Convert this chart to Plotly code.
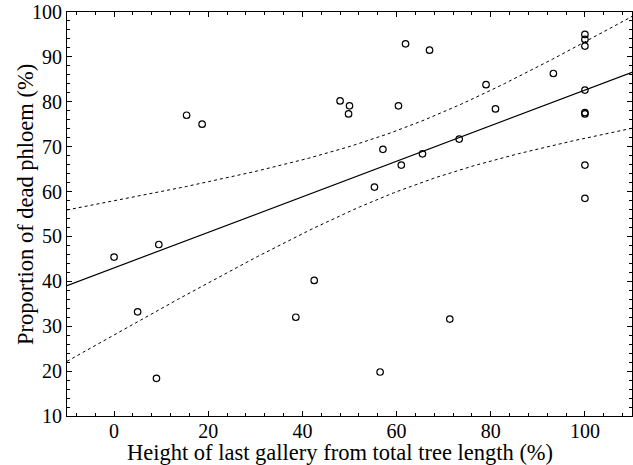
import numpy as np
import plotly.graph_objects as go

# Data
height_pct = [15.4, 18.7, 48.0, 50.0, 49.8, 61.9, 67.0, 60.4, 57.1, 61.0, 65.5, 55.3,
              73.3, 79.0, 81.0, 93.3,
              100, 100, 100, 100, 100, 100, 100, 100,
              0.0, 9.5, 5.0, 9.0, 38.6, 42.5, 56.5, 71.3]
dead_phloem = [77.0, 75.0, 80.2, 79.1, 77.3, 92.9, 91.5, 79.1, 69.4, 65.9, 68.4, 61.0,
               71.7, 83.8, 78.4, 86.3,
               95.0, 93.9, 92.4, 82.6, 77.6, 77.3, 65.9, 58.5,
               45.4, 48.2, 33.2, 18.4, 32.0, 40.2, 19.8, 31.6]
# Regression line
fit_intercept = 43.0
fit_slope = 0.396
x_ticks = [0, 20, 40, 60, 80, 100]
y_ticks = [10, 20, 30, 40, 50, 60, 70, 80, 90, 100]
x_title = "Height of last gallery from total tree length (%)"
y_title = "Proportion of dead phloem (%)"

x = np.array(height_pct, dtype=float)
y = np.array(dead_phloem, dtype=float)
n = len(x)
resid = y - (fit_intercept + fit_slope * x)
s = np.sqrt(np.sum(resid ** 2) / (n - 2))
t_crit = 2.042  # t(0.975, df=30)
xs = np.linspace(-10, 110, 200)
fit = fit_intercept + fit_slope * xs
se = s * np.sqrt(1.0 / n + (xs - x.mean()) ** 2 / np.sum((x - x.mean()) ** 2))
upper = fit + t_crit * se
lower = fit - t_crit * se

fig = go.Figure()
fig.add_trace(go.Scatter(x=xs, y=upper, mode="lines",
                         line=dict(color="black", width=1, dash="3px,3px"), showlegend=False))
fig.add_trace(go.Scatter(x=xs, y=lower, mode="lines",
                         line=dict(color="black", width=1, dash="3px,3px"), showlegend=False))
fig.add_trace(go.Scatter(x=xs, y=fit, mode="lines",
                         line=dict(color="black", width=1.2), showlegend=False))
fig.add_trace(go.Scatter(x=x, y=y, mode="markers",
                         marker=dict(symbol="circle-open", size=6.5, color="black",
                                     line=dict(width=1.2, color="black")),
                         showlegend=False))

font = dict(family="Liberation Serif, Times New Roman, serif", color="black")
fig.update_layout(
    width=633, height=465,
    margin=dict(l=67, r=1, t=12, b=49),
    paper_bgcolor="white", plot_bgcolor="white",
    font=dict(**font, size=20),
    xaxis=dict(range=[-10, 110], tickvals=x_ticks, ticks="inside", ticklen=5,
               tickcolor="black", showline=True, linecolor="black", linewidth=1,
               mirror="allticks", showgrid=False, zeroline=False,
               tickfont=dict(size=20), ticklabelstandoff=-3,
               minor=dict(dtick=4, tick0=0, ticks="inside", ticklen=3, tickcolor="black")),
    yaxis=dict(range=[10, 100], tickvals=y_ticks, ticks="inside", ticklen=5,
               tickcolor="black", showline=True, linecolor="black", linewidth=1,
               mirror="allticks", showgrid=False, zeroline=False,
               tickfont=dict(size=20),
               minor=dict(dtick=2, tick0=0, ticks="inside", ticklen=3, tickcolor="black")),
    annotations=[
        dict(text=x_title, xref="paper", yref="paper", x=0.5, y=0,
             xanchor="center", yanchor="middle", xshift=-10, yshift=-36,
             showarrow=False, font=dict(size=22.5)),
        dict(text=y_title, xref="paper", yref="paper", x=0, y=0.5,
             xanchor="center", yanchor="middle", xshift=-42, yshift=9,
             textangle=-90, showarrow=False, font=dict(size=22.5)),
    ],
)
fig.write_html("out.html")
